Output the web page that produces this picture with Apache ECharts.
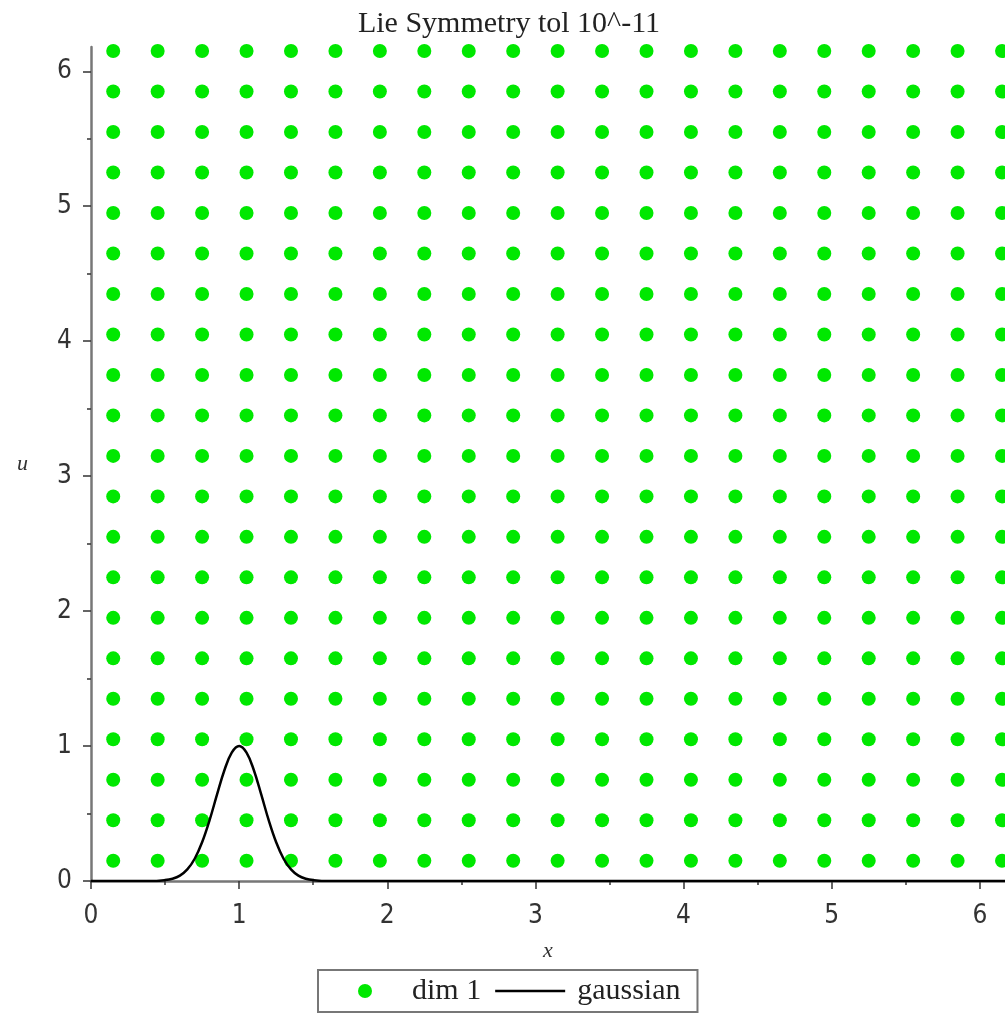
<!DOCTYPE html>
<html><head><meta charset="utf-8">
<script src="https://cdn.jsdelivr.net/npm/echarts@6/dist/echarts.min.js"></script>
<style>html,body{margin:0;padding:0;background:#fff}#c{width:1005px;height:1015px}</style>
</head><body><div id="c"></div>
<script>
const titleText = 'Lie Symmetry tol 10^-11';
const seriesNames = ['dim 1', 'gaussian'];
// grid point coordinates of the "dim 1" dots
const gridX = [0.15,0.45,0.75,1.05,1.35,1.65,1.95,2.25,2.55,2.85,3.15,3.45,3.75,4.05,4.35,4.65,4.95,5.25,5.55,5.85,6.15];
const gridU = [0.15,0.45,0.75,1.05,1.35,1.65,1.95,2.25,2.55,2.85,3.15,3.45,3.75,4.05,4.35,4.65,4.95,5.25,5.55,5.85,6.15];
// gaussian curve
const gaussX = [0,0.4,0.5,0.55,0.6,0.65,0.7,0.75,0.8,0.85,0.9,0.95,1.0,1.05,1.1,1.15,1.2,1.25,1.3,1.35,1.4,1.45,1.5,1.6,6.2];
const gaussU = [0,0,0.007,0.017,0.04,0.086,0.165,0.287,0.449,0.638,0.819,0.951,1,0.951,0.819,0.638,0.449,0.287,0.165,0.086,0.04,0.017,0.007,0,0];
const majorTicks = [0,1,2,3,4,5,6];
const minorTicks = [0.5,1.5,2.5,3.5,4.5,5.5];
const xMax = 6.17, uMax = 6.18;

const dots = [];
gridX.forEach(x => gridU.forEach(u => dots.push([x, u])));
const curve = gaussX.map((x, i) => [x, gaussU[i]]);

const tickFont = "'Liberation Sans Narrow','DejaVu Sans Condensed','Liberation Sans',sans-serif";
const serif = "'Liberation Serif','DejaVu Serif',serif";

function mainAxis(isX) {
  return {
    type: 'value', min: 0, max: isX ? xMax : uMax,
    position: isX ? 'bottom' : 'left',
    axisLine: {show: true, onZero: false, lineStyle: {color: '#777', width: 2.5}},
    axisTick: {show: true, customValues: majorTicks, length: 8, lineStyle: {color: '#333', width: 1.5}},
    axisLabel: {customValues: majorTicks, margin: isX ? 22 : 19, fontSize: 26, fontFamily: tickFont, color: '#333'},
    splitLine: {show: false},
    name: isX ? 'x' : 'u', nameLocation: 'middle', nameGap: isX ? 59 : 63, nameRotate: 0,
    nameTextStyle: {fontFamily: serif, fontStyle: 'italic', fontSize: 22, color: '#333'}
  };
}
function minorAxis(isX) {
  return {
    type: 'value', min: 0, max: isX ? xMax : uMax,
    position: isX ? 'bottom' : 'left',
    axisLine: {show: false},
    axisTick: {show: true, customValues: minorTicks, length: 4, lineStyle: {color: '#333', width: 1.5}},
    axisLabel: {show: false},
    splitLine: {show: false}
  };
}

const chart = echarts.init(document.getElementById('c'));
chart.setOption({
  animation: false,
  backgroundColor: '#fff',
  title: {text: titleText, left: 509, top: 9, textAlign: 'center', padding: 0,
    textStyle: {fontFamily: serif, fontSize: 30, fontWeight: 'normal', color: '#222'}},
  grid: {left: 91, right: 0, top: 47, bottom: 134, containLabel: false},
  xAxis: [mainAxis(true), minorAxis(true)],
  yAxis: [mainAxis(false), minorAxis(false)],
  legend: {
    left: 318, top: 970, orient: 'horizontal',
    data: [
      {name: seriesNames[0], icon: 'circle', itemStyle: {color: '#00e800', opacity: 1}},
      {name: seriesNames[1], icon: 'path://M0,0H70V2.5H0Z'}
    ],
    itemWidth: 70, itemHeight: 14, itemGap: 14,
    padding: [6, 17, 6, 40], borderColor: '#777', borderWidth: 2,
    textStyle: {fontFamily: serif, fontSize: 30, color: '#222', padding: [0, 0, 0, 7]}
  },
  series: [
    {name: seriesNames[0], type: 'scatter', data: dots, symbolSize: 14,
     itemStyle: {color: '#00e800', opacity: 1}, xAxisIndex: 0, yAxisIndex: 0},
    {name: seriesNames[1], type: 'line', data: curve, symbol: 'none', smooth: 0.4,
     lineStyle: {color: '#000', width: 2.5}, itemStyle: {color: '#000'}, xAxisIndex: 0, yAxisIndex: 0, z: 3}
  ]
});
</script></body></html>
